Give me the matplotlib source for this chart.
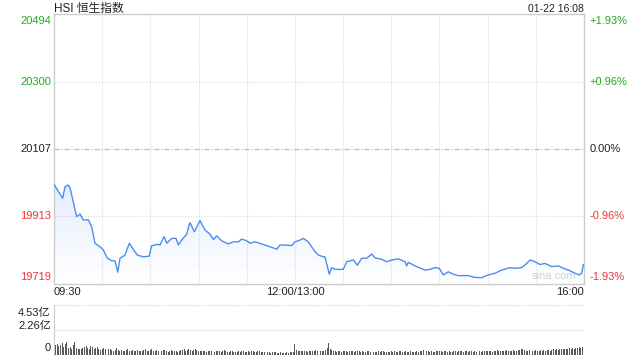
import numpy as np
import matplotlib
matplotlib.use("Agg")
import matplotlib.pyplot as plt
import matplotlib.transforms as mtrans

plt.rcParams['font.family'] = ['Liberation Sans', 'Noto Sans CJK SC', 'DejaVu Sans']

title = "HSI 恒生指数"
stamp = "01-22 16:08"
watermark = "sina.com"
prev_close = 20107
price_ticks = [20494, 20300, 20107, 19913, 19719]
pct_labels = ["+1.93%", "+0.96%", "0.00%", "-0.96%", "-1.93%"]
time_labels = ["09:30", "12:00/13:00", "16:00"]
time_label_min = [0, 150, 330]
grid_minutes = [30, 60, 90, 120, 150, 180, 210, 240, 270, 300]

# minutes since 09:30 (lunch break removed) and index level
minutes = [0, 5.4, 6.8, 8.9, 10, 14.1, 16.2, 18.2, 21.4, 23.5, 25.5, 28.6, 30.7, 33.2, 35.9,
           38, 39.7, 41.1, 44.2, 46.9, 49, 51.9, 55.6, 59.3, 60.8, 64.9, 66, 68.5, 70.2,
           73.3, 76, 77.4, 79.5, 82.6, 84.2, 84.7, 87.4, 90.9, 94, 97.1, 99.2, 101.3, 104.4,
           108.5, 111.6, 114.8, 116.9, 120, 122, 125.2, 129.3, 135.6, 138.7, 140.7, 143.8,
           148, 150, 153.2, 155.2, 158.3, 162.5, 164.6, 167.7, 168.7, 171.4, 172.9, 175,
           180.1, 182.3, 186.4, 188.9, 191.6, 194.7, 197.8, 199.9, 204, 207.1, 210.3, 214.4,
           218.6, 219.6, 220.6, 225.8, 231, 234.1, 237.2, 239.9, 242.4, 245.5, 248.6, 251.7,
           253.9, 258, 262.1, 266.3, 270.4, 274.6, 278.8, 283.9, 287, 291.2, 294.3, 296.4,
           299.5, 302.6, 305.7, 309.9, 314, 317.2, 320.2, 324.4, 326.9, 328.6, 329.6]
prices = [20005, 19965, 19998, 20003, 19995, 19912, 19920, 19903, 19903, 19883, 19836, 19826,
          19817, 19793, 19786, 19785, 19753, 19793, 19802, 19836, 19821, 19802, 19797, 19799,
          19829, 19833, 19831, 19855, 19836, 19850, 19850, 19831, 19845, 19862, 19890, 19895,
          19869, 19901, 19874, 19862, 19847, 19857, 19843, 19834, 19840, 19840, 19848, 19843,
          19836, 19840, 19834, 19824, 19819, 19831, 19831, 19829, 19840, 19845, 19850, 19840,
          19812, 19802, 19797, 19797, 19747, 19766, 19761, 19761, 19783, 19788, 19773, 19793,
          19793, 19805, 19794, 19790, 19783, 19788, 19791, 19783, 19771, 19781, 19769, 19759,
          19761, 19766, 19764, 19745, 19754, 19747, 19743, 19743, 19743, 19738, 19737, 19745,
          19750, 19759, 19766, 19764, 19766, 19778, 19788, 19783, 19775, 19778, 19769, 19771,
          19764, 19759, 19750, 19745, 19750, 19775]

vol_ticks = [4.53, 2.26, 0]
# per-minute turnover, 亿
volumes = [
    3.26, 0.95, 1.02, 0.78, 0.88, 1.05, 0.72, 0.96, 1.20, 0.66,
    0.74, 0.58, 0.92, 1.18, 0.62, 0.55, 0.50, 0.56, 0.60, 0.72,
    0.85, 0.64, 0.58, 0.80, 0.70, 0.52, 0.66, 0.76, 0.58, 0.48,
    0.55, 0.62, 0.50, 0.45, 0.52, 0.58, 0.44, 0.40, 0.48, 0.62,
    0.42, 0.38, 0.46, 0.40, 0.35, 0.44, 0.52, 0.38, 0.36, 0.42,
    0.34, 0.40, 0.48, 0.36, 0.32, 0.38, 0.45, 0.50, 0.40, 0.35,
    0.46, 0.52, 0.40, 0.36, 0.44, 0.38, 0.32, 0.36, 0.48, 0.42,
    0.34, 0.30, 0.38, 0.44, 0.36, 0.40, 0.32, 0.28, 0.36, 0.42,
    0.46, 0.52, 0.40, 0.48, 0.55, 0.44, 0.38, 0.42, 0.50, 0.46,
    0.40, 0.36, 0.32, 0.38, 0.34, 0.30, 0.36, 0.40, 0.34, 0.30,
    0.28, 0.34, 0.38, 0.32, 0.30, 0.36, 0.42, 0.34, 0.30, 0.28,
    0.32, 0.36, 0.30, 0.26, 0.30, 0.34, 0.28, 0.32, 0.38, 0.30,
    0.28, 0.34, 0.30, 0.36, 0.32, 0.28, 0.30, 0.34, 0.38, 0.30,
    0.26, 0.24, 0.28, 0.30, 0.26, 0.22, 0.24, 0.28, 0.26, 0.22,
    0.20, 0.24, 0.22, 0.18, 0.22, 0.26, 0.20, 0.24, 0.28, 0.30,
    0.98, 0.42, 0.36, 0.38, 0.32, 0.34, 0.40, 0.36, 0.30, 0.34,
    0.38, 0.32, 0.36, 0.42, 0.34, 0.30, 0.36, 0.40, 0.38, 0.46,
    0.62, 1.06, 0.50, 0.44, 0.38, 0.34, 0.30, 0.36, 0.32, 0.28,
    0.34, 0.40, 0.36, 0.30, 0.32, 0.38, 0.34, 0.28, 0.36, 0.40,
    0.32, 0.30, 0.34, 0.28, 0.26, 0.32, 0.36, 0.30, 0.34, 0.28,
    0.26, 0.30, 0.34, 0.28, 0.32, 0.36, 0.30, 0.28, 0.26, 0.30,
    0.34, 0.28, 0.32, 0.30, 0.26, 0.32, 0.36, 0.30, 0.28, 0.34,
    0.30, 0.28, 0.34, 0.30, 0.26, 0.30, 0.34, 0.28, 0.32, 0.36,
    0.44, 0.66, 0.38, 0.32, 0.30, 0.34, 0.30, 0.28, 0.32, 0.36,
    0.40, 0.34, 0.30, 0.36, 0.32, 0.28, 0.34, 0.30, 0.26, 0.32,
    0.36, 0.30, 0.34, 0.38, 0.32, 0.30, 0.36, 0.34, 0.30, 0.38,
    0.32, 0.30, 0.34, 0.28, 0.32, 0.36, 0.30, 0.34, 0.38, 0.32,
    0.36, 0.40, 0.34, 0.30, 0.36, 0.38, 0.42, 0.36, 0.32, 0.38,
    0.40, 0.36, 0.42, 0.38, 0.34, 0.40, 0.44, 0.38, 0.36, 0.42,
    0.46, 0.58, 0.50, 0.44, 0.40, 0.36, 0.42, 0.38, 0.34, 0.40,
    0.44, 0.38, 0.36, 0.42, 0.40, 0.44, 0.38, 0.42, 0.46, 0.40,
    0.44, 0.50, 0.46, 0.52, 0.48, 0.54, 0.50, 0.56, 0.52, 0.58,
    0.54, 0.60, 0.56, 0.62, 0.58, 0.66, 0.60, 0.70, 0.64, 0.72,
    4.53,
]

GREEN = "#22aa22"
RED = "#f23333"
LINE = "#4d8cf0"
GRID = "#d8d8d8"
FRAME = "#cccccc"


def level_color(v):
    if v > prev_close:
        return GREEN
    if v < prev_close:
        return RED
    return "#222222"


fig = plt.figure(figsize=(6.4, 3.6), dpi=100)
W, H = 640, 360
ax = fig.add_axes([54 / W, 76 / H, 530 / W, 270 / H])
axv = fig.add_axes([54 / W, 5 / H, 530 / W, 50 / H])

xmax = 330
ax.set_xticks([])
ax.set_yticks([])
for s in ax.spines.values():
    s.set_color(FRAME)
    s.set_linewidth(1.0)

for m in grid_minutes:
    ax.axvline(m, color=GRID, lw=0.8, ls=(0, (1, 1.5)), zorder=1)
for v in price_ticks[1:-1]:
    if v == prev_close:
        ax.axhline(v, color="#bdbdbd", lw=0.9, ls=(0, (4, 1.5, 1, 1.5)), zorder=1)
    else:
        ax.axhline(v, color=GRID, lw=0.8, ls=(0, (1, 1.5)), zorder=1)

# gradient fill under the line
x = np.array(minutes)
y = np.array(prices)
poly = ax.fill_between(x, y, price_ticks[-1], color="none", lw=0)
grad = np.linspace(0.15, 0.0, 256).reshape(-1, 1)
rgba = np.zeros((256, 1, 4))
rgba[..., :3] = matplotlib.colors.to_rgb(LINE)
rgba[..., 3] = grad
img = ax.imshow(rgba, aspect="auto", extent=[0, xmax, price_ticks[-1], y.max()],
                origin="upper", zorder=2)
img.set_clip_path(poly.get_paths()[0], transform=ax.transData)
ax.set_xlim(0, xmax)
ax.set_ylim(price_ticks[-1], price_ticks[0])

ax.plot(x, y, color=LINE, lw=1.0, zorder=3, solid_joinstyle="round")

ytr = mtrans.blended_transform_factory(ax.transAxes, ax.transData)
for i, (v, ptxt) in enumerate(zip(price_ticks, pct_labels)):
    va = "top" if i == 0 else ("bottom" if i == len(price_ticks) - 1 else "center")
    dy = -2 if i == 0 else (2 if i == len(price_ticks) - 1 else 0)
    off = mtrans.offset_copy(ytr, fig=fig, x=0, y=dy, units="dots")
    c = level_color(v)
    ax.text(-0.006, v, f"{v}", transform=off, ha="right", va=va, fontsize=8, color=c)
    ax.text(1.011, v, ptxt, transform=off, ha="left", va=va, fontsize=8, color=c)

xtr = mtrans.blended_transform_factory(ax.transData, ax.transAxes)
for lab, m in zip(time_labels, time_label_min):
    ha = "left" if m == 0 else ("right" if m == xmax else "center")
    ax.text(m, -8 / 270, lab, transform=xtr, ha=ha, va="center", fontsize=8, color="#222222")

ax.text(0, 1 + 5 / 270, title, transform=ax.transAxes, ha="left", va="center",
        fontsize=8.5, color="#222222")
ax.text(1, 1 + 5 / 270, stamp, transform=ax.transAxes, ha="right", va="center",
        fontsize=7.5, color="#222222")
ax.text(0.985, 0.012, watermark, transform=ax.transAxes, ha="right", va="bottom",
        fontsize=8, color="#d2d2d2", zorder=4)

# volume panel
axv.set_xlim(0, xmax)
axv.set_ylim(0, vol_ticks[0])
axv.bar(np.arange(len(volumes)), volumes, width=0.6, color="#5a5a5a", lw=0, zorder=3)
for v in vol_ticks[:-1]:
    axv.axhline(v, color=GRID, lw=0.8, ls=(0, (1, 1)), zorder=1)
axv.set_xticks([])
axv.set_yticks([])
for k in ["top", "right", "bottom"]:
    axv.spines[k].set_visible(False)
axv.spines["left"].set_color(FRAME)

vtr = mtrans.blended_transform_factory(axv.transAxes, axv.transData)
vol_offsets = [-8, 4, 7]  # pixel shift of each label's centre from its level
for v, dy in zip(vol_ticks, vol_offsets):
    lab = f"{v:.2f}亿" if v else "0"
    off = mtrans.offset_copy(vtr, fig=fig, x=0, y=dy, units="dots")
    axv.text(-0.006, v, lab, transform=off, ha="right", va="center", fontsize=8, color="#222222")

fig.savefig("out.png", dpi=100)
